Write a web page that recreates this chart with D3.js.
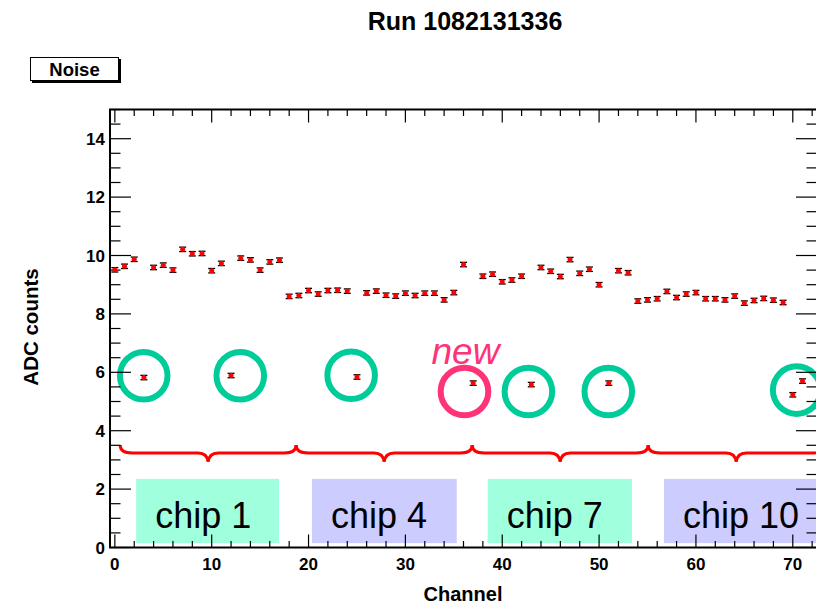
<!DOCTYPE html>
<html>
<head>
<meta charset="utf-8">
<script src="https://cdn.jsdelivr.net/npm/d3@7/dist/d3.min.js"></script>
<style>
  html, body { margin: 0; padding: 0; background: #ffffff; }
  svg { display: block; font-family: "Liberation Sans", Arial, Helvetica, sans-serif; }
</style>
</head>
<body>
<svg id="chart" width="816" height="606"></svg>
<script>
// Per-channel noise (ADC counts), channels 0..71
const channels = d3.range(0, 72);
const noise = [
  9.51, 9.63, 9.87, 5.82, 9.59, 9.67, 9.50, 10.21, 10.06, 10.07,
  9.48, 9.73, 5.89, 9.91, 9.85, 9.50, 9.78, 9.84, 8.60, 8.63,
  8.80, 8.68, 8.80, 8.81, 8.78, 5.84, 8.72, 8.78, 8.64, 8.61,
  8.71, 8.63, 8.71, 8.71, 8.48, 8.73, 9.69, 5.63, 9.29, 9.36,
  9.10, 9.16, 9.29, 5.58, 9.59, 9.46, 9.28, 9.86, 9.39, 9.53,
  9.00, 5.63, 9.48, 9.41, 8.44, 8.48, 8.52, 8.77, 8.56, 8.68,
  8.73, 8.52, 8.52, 8.48, 8.61, 8.37, 8.46, 8.53, 8.47, 8.39,
  5.23, 5.70
];

// Axis ticks
const xMajorTicks = [0, 10, 20, 30, 40, 50, 60, 70];
const yMajorTicks = [0, 2, 4, 6, 8, 10, 12, 14];

// Chip labels and the channel span of each label box
const chipNames = ["chip 1", "chip 4", "chip 7", "chip 10"];
const chipBoxSpans = [[2.2, 16.95], [20.35, 35.3], [38.5, 53.4], [56.7, 73.2]];
const chipFills = ["#a0ffdc", "#ccccff", "#a0ffdc", "#ccccff"];

// Curly braces grouping the channels of each chip
const braceSpans = [[0.55, 18.72], [18.72, 36.9], [36.9, 55.07], [55.07, 73.25]];
const braceLevel = 3.24;

// Rings around the low-noise channels: [channel, ADC counts]
const ringCenters = [[2.98, 5.88], [12.95, 5.88], [24.4, 5.9], [36.1, 5.34], [42.7, 5.34], [50.95, 5.34], [70.4, 5.39]];
const ringIsNew = [false, false, false, true, false, false, false];
const newLabel = { text: "new", channel: 36.2, value: 6.28 };

(function draw() {
  const svg = d3.select("#chart");

  const pLeft = 110, pRight = 817, pTop = 109.5, pBottom = 547.5;
  const x = d3.scaleLinear().domain([-0.5, 72.5]).range([pLeft, pRight]);
  const y = d3.scaleLinear().domain([0, 15]).range([pBottom, pTop]);

  // Title
  svg.append("text")
    .attr("x", 465).attr("y", 30)
    .attr("text-anchor", "middle")
    .attr("font-size", 25).attr("font-weight", "bold")
    .attr("fill", "#000")
    .text("Run 1082131336");

  // "Noise" legend box with shadow
  const nb = svg.append("g");
  nb.append("rect").attr("x", 32).attr("y", 59).attr("width", 89).attr("height", 24).attr("fill", "#000");
  nb.append("rect").attr("x", 30.5).attr("y", 57.5).attr("width", 88).attr("height", 23)
    .attr("fill", "#fff").attr("stroke", "#000").attr("stroke-width", 1);
  nb.append("text").attr("x", 74.5).attr("y", 75.5).attr("text-anchor", "middle")
    .attr("font-size", 18.5).attr("font-weight", "bold").text("Noise");

  // Chip label boxes
  const chips = svg.append("g");
  chipNames.forEach((name, i) => {
    const [a, b] = chipBoxSpans[i];
    chips.append("rect")
      .attr("x", x(a)).attr("y", y(2.35))
      .attr("width", x(b) - x(a)).attr("height", y(0.15) - y(2.35))
      .attr("fill", chipFills[i]);
    chips.append("text")
      .attr("x", x(a) + 19).attr("y", y(0.67))
      .attr("font-size", 36).attr("fill", "#000")
      .text(name);
  });

  // Braces
  const braces = svg.append("g").attr("fill", "none").attr("stroke", "#ff0000").attr("stroke-width", 3);
  braceSpans.forEach(([a, b]) => {
    const x1 = x(a), x2 = x(b), xm = (x1 + x2) / 2, yl = y(braceLevel);
    const p = d3.path();
    p.moveTo(x1, yl - 8);
    p.quadraticCurveTo(x1, yl, x1 + 12, yl);
    p.lineTo(xm - 10, yl);
    p.quadraticCurveTo(xm - 1, yl, xm, yl + 9);
    p.quadraticCurveTo(xm + 1, yl, xm + 10, yl);
    p.lineTo(x2 - 12, yl);
    p.quadraticCurveTo(x2, yl, x2, yl - 8);
    braces.append("path").attr("d", p.toString());
  });

  // Rings
  const rings = svg.append("g").attr("fill", "none").attr("stroke-width", 6);
  ringCenters.forEach(([c, v], i) => {
    rings.append("circle")
      .attr("cx", x(c)).attr("cy", y(v)).attr("r", 23.8)
      .attr("stroke", ringIsNew[i] ? "#ff3377" : "#00cc99");
  });
  svg.append("text")
    .attr("x", x(newLabel.channel)).attr("y", y(newLabel.value))
    .attr("text-anchor", "middle")
    .attr("font-size", 37).attr("font-style", "italic")
    .attr("fill", "#ff3377")
    .text(newLabel.text);

  // Frame and ticks
  const axes = svg.append("g").attr("stroke", "#000");
  axes.append("rect").attr("x", pLeft).attr("y", pTop)
    .attr("width", pRight - pLeft).attr("height", pBottom - pTop)
    .attr("fill", "none").attr("stroke-width", 2);

  const xMinor = d3.range(0, 73, 2).filter(v => !xMajorTicks.includes(v));
  const yMinor = d3.range(0, 15.01, 0.5).filter(v => !yMajorTicks.includes(v));
  const XMAJ = 13, XMIN = 6.5, YMAJ = 21, YMIN = 10.5;

  const tick = (x1, x2, y1, y2) =>
    axes.append("line").attr("x1", x1).attr("x2", x2).attr("y1", y1).attr("y2", y2).attr("stroke-width", 1.2);

  xMajorTicks.forEach(v => {
    tick(x(v), x(v), pBottom, pBottom - XMAJ);
    tick(x(v), x(v), pTop, pTop + XMAJ);
  });
  xMinor.forEach(v => {
    tick(x(v), x(v), pBottom, pBottom - XMIN);
    tick(x(v), x(v), pTop, pTop + XMIN);
  });
  yMajorTicks.forEach(v => {
    tick(pLeft, pLeft + YMAJ, y(v), y(v));
    tick(pRight, pRight - YMAJ, y(v), y(v));
  });
  yMinor.forEach(v => {
    tick(pLeft, pLeft + YMIN, y(v), y(v));
    tick(pRight, pRight - YMIN, y(v), y(v));
  });

  // Tick labels
  const labels = svg.append("g").attr("font-size", 17).attr("font-weight", "bold").attr("fill", "#000");
  xMajorTicks.forEach(v => {
    labels.append("text").attr("x", x(v)).attr("y", 569.5).attr("text-anchor", "middle").text(v);
  });
  yMajorTicks.forEach(v => {
    labels.append("text").attr("x", 105).attr("y", y(v) + 6).attr("text-anchor", "end").text(v);
  });

  // Axis titles
  svg.append("text")
    .attr("x", 463).attr("y", 601)
    .attr("text-anchor", "middle")
    .attr("font-size", 20).attr("font-weight", "bold")
    .text("Channel");
  svg.append("text")
    .attr("transform", "translate(38,327) rotate(-90)")
    .attr("text-anchor", "middle")
    .attr("font-size", 20.5).attr("font-weight", "bold")
    .text("ADC counts");

  // Data points: black error caps with red marker
  const pts = svg.append("g").selectAll("g").data(channels).join("g")
    .attr("transform", c => `translate(${x(c)},${y(noise[c])})`);
  pts.append("line").attr("x1", -3.5).attr("x2", 3.5).attr("y1", -2.2).attr("y2", -2.2)
    .attr("stroke", "#000").attr("stroke-width", 1.3);
  pts.append("line").attr("x1", -3.5).attr("x2", 3.5).attr("y1", 2.2).attr("y2", 2.2)
    .attr("stroke", "#000").attr("stroke-width", 1.3);
  pts.append("circle").attr("r", 2.5).attr("fill", "#ff0000");
})();
</script>
</body>
</html>
